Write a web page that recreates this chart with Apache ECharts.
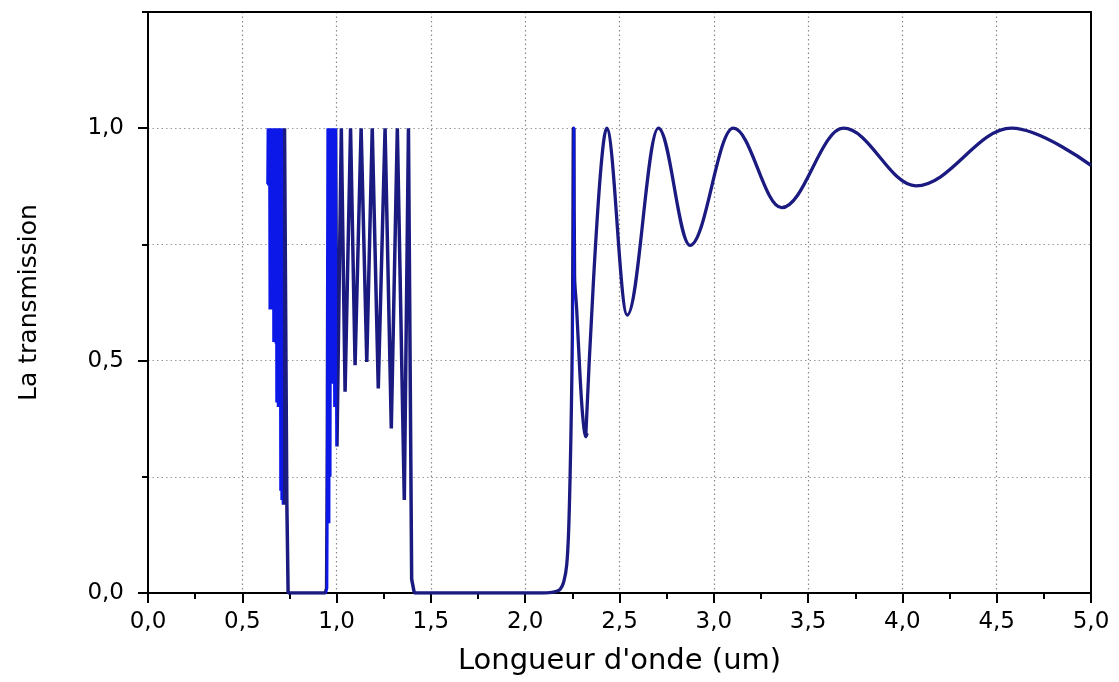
<!DOCTYPE html>
<html>
<head>
<meta charset="utf-8">
<script src="https://cdn.jsdelivr.net/npm/echarts@6/dist/echarts.min.js"></script>
<style>
html,body{margin:0;padding:0;background:#fff;}
#chart{width:1119px;height:682px;}
</style>
</head>
<body>
<div id="chart"></div>
<script>
// Band region (0.64 - 2.10 um), drawn as straight segments
const bandWavelength = [
  0.636,0.638,0.640,0.642,0.644,0.646,0.648,0.650,0.652,0.654,0.656,0.658,0.660,0.662,0.664,
  0.666,0.668,0.670,0.672,0.674,0.676,0.678,0.680,0.682,0.684,0.686,0.688,0.690,0.692,0.694,
  0.696,0.698,0.700,0.702,0.705,0.708,0.711,0.714,0.718,0.724,0.728,0.736,0.743,
  0.940,0.947,0.951,0.955,0.958,0.961,0.964,0.967,0.970,0.973,0.976,0.979,0.983,0.986,0.991,0.995,
  1.002,1.025,1.045,1.074,1.098,1.130,1.160,1.189,1.221,1.257,1.290,1.322,1.359,1.381,1.398,1.412,
  2.100
];
const bandTransmission = [
  0.88,1.00,0.877,1.00,0.88,1.00,0.61,1.00,0.62,1.00,0.61,1.00,0.62,1.00,0.61,
  1.00,0.54,1.00,0.55,1.00,0.54,1.00,0.537,1.00,0.41,1.00,0.42,1.00,0.40,1.00,
  0.41,1.00,0.40,1.00,0.22,1.00,0.20,1.00,0.19,1.00,1.00,0.20,0.00,
  0.00,0.01,0.35,1.00,0.15,1.00,0.25,1.00,0.45,1.00,0.55,1.00,0.45,1.00,0.40,1.00,
  0.315,1.00,0.433,1.00,0.49,1.00,0.497,1.00,0.44,1.00,0.354,1.00,0.20,1.00,0.03,0.00,
  0.00
];
// Band edge near 2.25 um (2.10 - 2.33 um)
const edgeWavelength = [
  2.100,2.150,2.185,2.205,2.220,2.230,2.238,2.245,2.250,2.253,2.255,2.257,2.259,2.262,
  2.273,2.291,2.305,2.321,2.329
];
const edgeTransmission = [
  0.000,0.002,0.008,0.025,0.060,0.130,0.250,0.400,0.550,0.800,1.000,0.720,1.000,0.680,
  0.610,0.465,0.380,0.336,0.344
];
// Fringe extrema (2.321 - 5.00 um)
const fringeWavelength = [2.321,2.432,2.541,2.706,2.874,3.103,3.360,3.687,4.072,4.579,5.000];
const fringeTransmission = [0.336,1.000,0.598,1.000,0.748,1.000,0.829,1.000,0.876,1.000,0.920];

const NAVY = '#1a1a80';
const BLUE = '#0b18e8';
const FONT = 'DejaVu Sans';
const fmt = v => v.toFixed(1).replace('.', ',');
const dotted = c => ({ color: c, type: [1.5, 3], width: 1.2 });
const pairs = (xs, ys) => xs.map((x, i) => [x, ys[i]]);

const chart = echarts.init(document.getElementById('chart'));
chart.setOption({
  animation: false,
  backgroundColor: '#fff',
  grid: { left: 148, right: 28, top: 12, bottom: 89 },
  visualMap: {
    type: 'piecewise', show: false, dimension: 0, seriesIndex: [0, 1],
    pieces: [
      { lt: 0.716, color: BLUE },
      { gte: 0.716, lt: 0.946, color: NAVY },
      { gte: 0.946, lt: 1.003, color: BLUE },
      { gte: 1.003, lt: 2.251, color: NAVY },
      { gte: 2.251, lt: 2.262, color: BLUE },
      { gte: 2.262, color: NAVY }
    ]
  },
  xAxis: [
    {
      type: 'value', min: 0, max: 5, interval: 0.5, position: 'bottom',
      name: 'Longueur d\'onde (um)', nameLocation: 'middle', nameGap: 54,
      nameTextStyle: { fontFamily: FONT, fontSize: 29, color: '#000' },
      axisLine: { show: true, lineStyle: { color: '#000', width: 2 } },
      axisTick: { show: true, length: 10, lineStyle: { color: '#000', width: 2 } },
      minorTick: { show: true, splitNumber: 2, length: 6, lineStyle: { color: '#000', width: 2 } },
      axisLabel: { formatter: fmt, fontFamily: FONT, fontSize: 23, color: '#000', margin: 18 },
      splitLine: { show: true, showMinLine: false, showMaxLine: false, lineStyle: dotted('#888') }
    },
    {
      type: 'value', min: 0, max: 5, position: 'top',
      axisLine: { show: true, onZero: false, lineStyle: { color: '#000', width: 2 } },
      axisTick: { show: false }, axisLabel: { show: false }, splitLine: { show: false }
    }
  ],
  yAxis: [
    {
      type: 'value', min: 0, max: 1.25, interval: 0.5, position: 'left',
      name: 'La transmission', nameLocation: 'middle', nameGap: 106,
      nameTextStyle: { fontFamily: FONT, fontSize: 25, color: '#000' },
      axisLine: { show: true, onZero: false, lineStyle: { color: '#000', width: 2 } },
      axisTick: { show: true, length: 10, lineStyle: { color: '#000', width: 2 } },
      axisLabel: { formatter: fmt, fontFamily: FONT, fontSize: 23, color: '#000', margin: 24, showMaxLabel: false },
      splitLine: { show: false }
    },
    {
      type: 'value', min: 0, max: 1.25, interval: 0.25, position: 'left',
      axisLine: { show: false },
      axisTick: { show: true, length: 6, lineStyle: { color: '#000', width: 2 } },
      axisLabel: { show: false },
      splitLine: { show: true, showMinLine: false, showMaxLine: false, lineStyle: dotted('#999') }
    },
    {
      type: 'value', min: 0, max: 1.25, position: 'right',
      axisLine: { show: true, onZero: false, lineStyle: { color: '#000', width: 2 } },
      axisTick: { show: false }, axisLabel: { show: false }, splitLine: { show: false }
    }
  ],
  series: [
    {
      type: 'line', yAxisIndex: 0, showSymbol: false, smooth: false,
      lineStyle: { width: 3.5 },
      data: pairs(bandWavelength, bandTransmission), z: 3
    },
    {
      type: 'line', yAxisIndex: 0, showSymbol: false, smooth: 0.3,
      lineStyle: { width: 3.3 },
      data: pairs(edgeWavelength, edgeTransmission), z: 3
    },
    {
      type: 'line', yAxisIndex: 0, showSymbol: false, smooth: 0.36, smoothMonotone: 'x',
      lineStyle: { width: 3.3, color: NAVY }, itemStyle: { color: NAVY },
      data: pairs(fringeWavelength, fringeTransmission), z: 3
    }
  ]
});
</script>
</body>
</html>
